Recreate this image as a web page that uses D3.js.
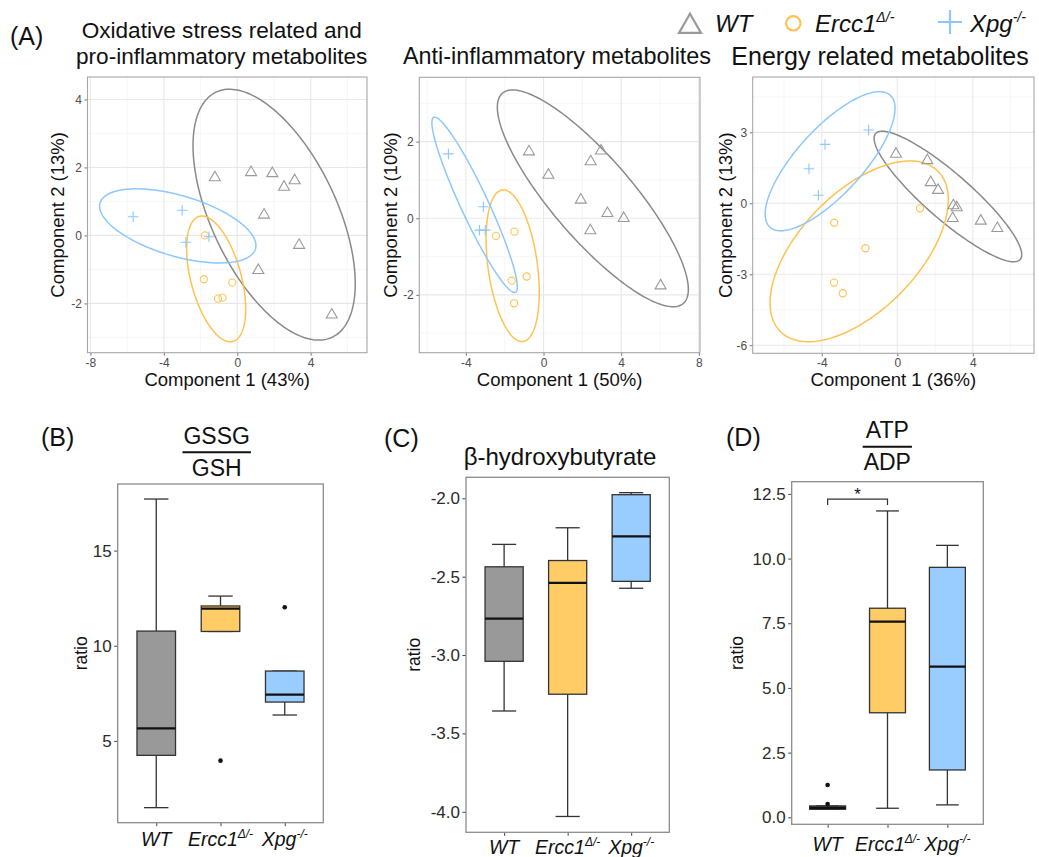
<!DOCTYPE html>
<html><head><meta charset="utf-8">
<script src="https://cdn.jsdelivr.net/npm/d3@7"></script>
<style>body{margin:0;background:#fff} svg text{font-family:"Liberation Sans",Arial,sans-serif}</style>
</head><body><svg id="c" width="1039" height="857"></svg>
<script>
// ---------------- DATA ----------------
const groups = ["WT", "Ercc1", "Xpg"];
const groupSup = ["", "\u0394/-", "-/-"];

const pcaTitles = [["Oxidative stress related and", "pro-inflammatory metabolites"], ["Anti-inflammatory metabolites"], ["Energy related metabolites"]];
const pcaXTitles = ["Component 1 (43%)", "Component 1 (50%)", "Component 1 (36%)"];
const pcaYTitles = ["Component 2 (13%)", "Component 2 (10%)", "Component 2 (13%)"];
const pcaXTicks = [[-8, -4, 0, 4], [-4, 0, 4, 8], [-4, 0, 4]];
const pcaYTicks = [[-2, 0, 2, 4], [-2, 0, 2], [-6, -3, 0, 3]];
const pcaXMinor = [[-6, -2, 2, 6], [-6, -2, 2, 6], [-6, -2, 2, 6]];
const pcaYMinor = [[-3, -1, 1, 3], [-3, -1, 1, 3], [-4.5, -1.5, 1.5, 4.5]];

// PCA scores [component1, component2]
const oxWT = [[-1.22, 1.75], [0.75, 1.9], [1.91, 1.87], [3.13, 1.66], [2.55, 1.47], [1.46, 0.65], [3.37, -0.24], [1.15, -0.98], [5.15, -2.29]];
const oxErcc1 = [[-1.76, 0.0], [-1.82, -1.29], [-0.27, -1.39], [-1.05, -1.86], [-0.8, -1.83]];
const oxXpg = [[-5.67, 0.55], [-3.0, 0.74], [-2.8, -0.2], [-1.54, -0.04]];
const antiWT = [[-0.75, 1.78], [2.96, 1.8], [2.43, 1.52], [0.25, 1.17], [1.92, 0.52], [3.29, 0.17], [4.13, 0.04], [2.41, -0.28], [6.03, -1.72]];
const antiErcc1 = [[-2.45, -0.46], [-1.5, -0.35], [-1.64, -1.63], [-0.87, -1.52], [-1.52, -2.22]];
const antiXpg = [[-4.9, 1.68], [-3.1, 0.3], [-3.3, -0.31], [-3.0, -0.31]];
const enWT = [[-0.07, 2.15], [1.59, 1.88], [1.77, 0.95], [2.16, 0.62], [2.97, -0.03], [3.15, -0.11], [2.93, -0.57], [4.42, -0.68], [5.3, -0.99]];
const enErcc1 = [[1.2, -0.21], [-3.34, -0.82], [-1.69, -1.9], [-3.35, -3.35], [-2.89, -3.8]];
const enXpg = [[-1.52, 3.1], [-3.83, 2.49], [-4.68, 1.46], [-4.18, 0.34]];

// confidence ellipses: [centre x, centre y, half-range x, half-range y, correlation]
const oxEllipses = [[2.01, 0.61, 4.42, 3.69, -0.55], [-1.15, -1.28, 1.61, 1.85, -0.48], [-3.24, 0.28, 4.26, 1.09, -0.53]];
const antiEllipses = [[2.54, 0.52, 4.92, 2.83, -0.84], [-1.59, -1.24, 1.37, 1.98, -0.35], [-3.55, 0.35, 2.2, 2.29, -0.935]];
const enEllipses = [[2.68, 0.29, 3.91, 2.76, -0.89], [-2.02, -2.03, 4.72, 3.82, 0.57], [-3.56, 1.78, 3.44, 2.94, 0.76]];

// Box plot summaries: [lower whisker, Q1, median, Q3, upper whisker]
const gssgStats = [[1.49, 4.24, 5.66, 10.77, 17.71], [10.75, 10.75, 11.95, 12.09, 12.61], [6.36, 7.04, 7.43, 8.67, 8.67]];
const gssgOutliers = [[], [3.96], [12.02]];
const bhbStats = [[-3.357, -3.04, -2.768, -2.437, -2.294], [-4.03, -3.25, -2.54, -2.397, -2.188], [-2.574, -2.53, -2.243, -1.977, -1.964]];
const bhbOutliers = [[], [], []];
const atpStats = [[0.31, 0.31, 0.37, 0.44, 0.44], [0.35, 4.04, 7.56, 8.08, 11.84], [0.48, 1.83, 5.82, 9.66, 10.51]];
const atpOutliers = [[1.25, 0.51], [], []];
const gssgTicks = [5, 10, 15];
const bhbTicks = [-4.0, -3.5, -3.0, -2.5, -2.0];
const atpTicks = [0, 2.5, 5, 7.5, 10, 12.5];
const atpSigPair = [1, 2];
const atpSigLevels = [12.3, 12.07];
const atpSigLabel = "*";

// ---------------- DRAWING ----------------
const svg = d3.select("#c");
const strokeCol = ["#9a9a9a", "#FFC24F", "#8CC8FF"];
const fillCol = ["#999999", "#FFCC66", "#99CCFF"];

function marker(sel, gi, size) {
  const s = size;
  if (gi === 0) {
    const h = s * 0.866;
    sel.append("path").attr("d", `M0,${-h / 2}L${s / 2},${h / 2}L${-s / 2},${h / 2}Z`)
      .attr("fill", "none").attr("stroke", strokeCol[0]);
  } else if (gi === 1) {
    sel.append("circle").attr("r", s * 0.36).attr("fill", "none").attr("stroke", strokeCol[1]);
  } else {
    sel.append("path").attr("d", `M${-s / 2},0H${s / 2}M0,${-s / 2}V${s / 2}`)
      .attr("fill", "none").attr("stroke", strokeCol[2]);
  }
}

const pcaLayout = [
  {l: 87.5, r: 367, t: 77, b: 352.7, xd: [-8.16, 7.07], yd: [-3.45, 4.66], tx: 221.7, ty: [38, 63.5], fs: 22.6, yx: 64},
  {l: 419.3, r: 700, t: 77.3, b: 352.7, xd: [-6.4, 8.06], yd: [-3.51, 3.68], tx: 557, ty: [64], fs: 23.4, yx: 397},
  {l: 752.7, r: 1034, t: 77, b: 353.3, xd: [-7.66, 7.24], yd: [-6.34, 5.34], tx: 880, ty: [64.5], fs: 25, yx: 731.5}
];
const pcaPoints = [[oxWT, oxErcc1, oxXpg], [antiWT, antiErcc1, antiXpg], [enWT, enErcc1, enXpg]];
const pcaEll = [oxEllipses, antiEllipses, enEllipses];

function pcaPanel(idx) {
  const L = pcaLayout[idx];
  const x = d3.scaleLinear().domain(L.xd).range([L.l, L.r]);
  const y = d3.scaleLinear().domain(L.yd).range([L.b, L.t]);
  const g = svg.append("g");
  const inX = v => v > L.xd[0] && v < L.xd[1];
  const inY = v => v > L.yd[0] && v < L.yd[1];
  g.selectAll(".mnx").data(pcaXMinor[idx].filter(inX)).join("line")
    .attr("x1", d => x(d)).attr("x2", d => x(d)).attr("y1", L.t).attr("y2", L.b)
    .attr("stroke", "#f2f2f2").attr("stroke-width", 0.7);
  g.selectAll(".mny").data(pcaYMinor[idx].filter(inY)).join("line")
    .attr("y1", d => y(d)).attr("y2", d => y(d)).attr("x1", L.l).attr("x2", L.r)
    .attr("stroke", "#f2f2f2").attr("stroke-width", 0.7);
  g.selectAll(".mjx").data(pcaXTicks[idx]).join("line")
    .attr("x1", d => x(d)).attr("x2", d => x(d)).attr("y1", L.t).attr("y2", L.b)
    .attr("stroke", "#e8e8e8").attr("stroke-width", 1.1);
  g.selectAll(".mjy").data(pcaYTicks[idx]).join("line")
    .attr("y1", d => y(d)).attr("y2", d => y(d)).attr("x1", L.l).attr("x2", L.r)
    .attr("stroke", "#e8e8e8").attr("stroke-width", 1.1);

  const xa = g.append("g").attr("transform", `translate(0,${L.b})`)
    .call(d3.axisBottom(x).tickValues(pcaXTicks[idx]).tickSize(3).tickPadding(2.5).tickFormat(d => String(d)));
  const ya = g.append("g").attr("transform", `translate(${L.l},0)`)
    .call(d3.axisLeft(y).tickValues(pcaYTicks[idx]).tickSize(3).tickPadding(2.5).tickFormat(d => String(d)));
  [xa, ya].forEach(a => {
    a.select(".domain").remove();
    a.selectAll("line").attr("stroke", "#777");
    a.selectAll("text").attr("fill", "#4d4d4d").style("font-size", "12px")
      .style("font-family", '"Liberation Sans",Arial,sans-serif');
  });

  // ellipses
  const ts = d3.range(0, 201).map(i => i / 200 * 2 * Math.PI);
  pcaEll[idx].forEach((e, gi) => {
    const [cx, cy, rx, ry, rho] = e;
    const s = Math.sqrt(1 - rho * rho);
    const line = d3.line().x(t => x(cx + rx * Math.cos(t))).y(t => y(cy + ry * (rho * Math.cos(t) + s * Math.sin(t))));
    g.append("path").attr("d", line(ts) + "Z").attr("fill", "none")
      .attr("stroke", gi === 0 ? "#8a8a8a" : strokeCol[gi]).attr("stroke-width", 1.5);
  });
  // points
  pcaPoints[idx].forEach((pts, gi) => {
    pts.forEach(p => {
      const m = g.append("g").attr("transform", `translate(${x(p[0])},${y(p[1])})`).attr("stroke-width", 1.1);
      marker(m, gi, gi === 0 ? 11 : (gi === 1 ? 10 : 10.5));
    });
  });
  g.append("rect").attr("x", L.l).attr("y", L.t).attr("width", L.r - L.l).attr("height", L.b - L.t)
    .attr("fill", "none").attr("stroke", "#a6a6a6").attr("stroke-width", 1.1);

  // titles
  pcaTitles[idx].forEach((t, k) => {
    svg.append("text").attr("x", L.tx).attr("y", L.ty[k]).attr("text-anchor", "middle")
      .style("font-size", L.fs + "px").attr("fill", "#111").text(t);
  });
  svg.append("text").attr("x", (L.l + L.r) / 2).attr("y", L.b + 33).attr("text-anchor", "middle")
    .style("font-size", "18.5px").attr("fill", "#111").text(pcaXTitles[idx]);
  svg.append("text").attr("transform", `translate(${L.yx},${(L.t + L.b) / 2}) rotate(-90)`)
    .attr("text-anchor", "middle").style("font-size", "18.5px").attr("fill", "#111").text(pcaYTitles[idx]);
}
[0, 1, 2].forEach(pcaPanel);

// legend
const legendItems = [{cx: 690, cy: 23.3, tx: 715}, {cx: 793.3, cy: 23.3, tx: 815}, {cx: 950, cy: 22, tx: 970}];
groups.forEach((gname, gi) => {
  const it = legendItems[gi];
  const m = svg.append("g").attr("transform", `translate(${it.cx},${it.cy})`).attr("stroke-width", 2.2);
  marker(m, gi, gi === 0 ? 22 : (gi === 1 ? 20 : 24));
  const t = svg.append("text").attr("x", it.tx).attr("y", 32).style("font-size", "24px")
    .style("font-style", "italic").attr("fill", "#111");
  t.append("tspan").text(gname);
  if (groupSup[gi]) t.append("tspan").attr("dy", -10).style("font-size", "14px").text(groupSup[gi]);
});

// panel labels
[["(A)", 10, 45], ["(B)", 41, 446], ["(C)", 384, 447], ["(D)", 726, 446]].forEach(d => {
  svg.append("text").attr("x", d[1]).attr("y", d[2]).style("font-size", "25px").attr("fill", "#111").text(d[0]);
});

// ---------------- BOX PLOTS ----------------
const boxLayout = [
  {l: 117.7, r: 323.3, t: 484, b: 822.7, yd: [0.7, 18.5], lblY: 846, ratioX: 86.5},
  {l: 466, r: 669.3, t: 477.3, b: 832.3, yd: [-4.131, -1.866], lblY: 854, ratioX: 420},
  {l: 791.7, r: 983.3, t: 481.7, b: 824.3, yd: [-0.27, 12.97], lblY: 851, ratioX: 743}
];

function boxPanel(L, stats, outs, ticks, fmt) {
  const x = d3.scaleLinear().domain([0.4, 3.6]).range([L.l, L.r]);
  const y = d3.scaleLinear().domain(L.yd).range([L.b, L.t]);
  const g = svg.append("g");
  const ya = g.append("g").attr("transform", `translate(${L.l},0)`)
    .call(d3.axisLeft(y).tickValues(ticks).tickSize(3.5).tickPadding(2.5).tickFormat(fmt));
  const xa = g.append("g").attr("transform", `translate(0,${L.b})`)
    .call(d3.axisBottom(x).tickValues([1, 2, 3]).tickSize(3.5).tickFormat(""));
  [xa, ya].forEach(a => {
    a.select(".domain").remove();
    a.selectAll("line").attr("stroke", "#444");
  });
  ya.selectAll("text").attr("fill", "#2b2b2b").style("font-size", "17px")
    .style("font-family", '"Liberation Sans",Arial,sans-serif');

  stats.forEach((s, i) => {
    const c = x(i + 1), hw = x(i + 1.3) - c, cw = x(i + 1.19) - c;
    const gg = g.append("g").attr("stroke", "#333").attr("stroke-width", 1.3);
    gg.append("line").attr("x1", c).attr("x2", c).attr("y1", y(s[0])).attr("y2", y(s[1]));
    gg.append("line").attr("x1", c).attr("x2", c).attr("y1", y(s[3])).attr("y2", y(s[4]));
    gg.append("line").attr("x1", c - cw).attr("x2", c + cw).attr("y1", y(s[0])).attr("y2", y(s[0]));
    gg.append("line").attr("x1", c - cw).attr("x2", c + cw).attr("y1", y(s[4])).attr("y2", y(s[4]));
    gg.append("rect").attr("x", c - hw).attr("width", 2 * hw).attr("y", y(s[3]))
      .attr("height", Math.max(0.5, y(s[1]) - y(s[3]))).attr("fill", fillCol[i]);
    gg.append("line").attr("x1", c - hw).attr("x2", c + hw).attr("y1", y(s[2])).attr("y2", y(s[2]))
      .attr("stroke", "#111").attr("stroke-width", 2.3);
    outs[i].forEach(o => {
      g.append("circle").attr("cx", c).attr("cy", y(o)).attr("r", 2.3).attr("fill", "#111");
    });
    const t = svg.append("text").attr("x", c).attr("y", L.lblY).attr("text-anchor", "middle")
      .style("font-size", "19.5px").style("font-style", "italic").attr("fill", "#111");
    t.append("tspan").text(groups[i]);
    if (groupSup[i]) t.append("tspan").attr("dy", -8).style("font-size", "12px").text(groupSup[i]);
  });
  g.append("rect").attr("x", L.l).attr("y", L.t).attr("width", L.r - L.l).attr("height", L.b - L.t)
    .attr("fill", "none").attr("stroke", "#8c8c8c").attr("stroke-width", 1.3);
  svg.append("text").attr("transform", `translate(${L.ratioX},${(L.t + L.b) / 2}) rotate(-90)`)
    .attr("text-anchor", "middle").style("font-size", "17.5px").attr("fill", "#111").text("ratio");
  return {x, y, g};
}

function fracTitle(cx, yTop, yBot, lineY, top, bot) {
  const t1 = svg.append("text").attr("x", cx).attr("y", yTop).attr("text-anchor", "middle").style("font-size", "23px").attr("fill", "#111").text(top);
  const t2 = svg.append("text").attr("x", cx).attr("y", yBot).attr("text-anchor", "middle").style("font-size", "23px").attr("fill", "#111").text(bot);
  const w = Math.max(t1.node().getComputedTextLength(), t2.node().getComputedTextLength()) + 2;
  svg.append("line").attr("x1", cx - w / 2).attr("x2", cx + w / 2).attr("y1", lineY).attr("y2", lineY)
    .attr("stroke", "#111").attr("stroke-width", 2);
}

boxPanel(boxLayout[0], gssgStats, gssgOutliers, gssgTicks, d => String(d));
fracTitle(216.7, 443.5, 476, 452.3, "GSSG", "GSH");

boxPanel(boxLayout[1], bhbStats, bhbOutliers, bhbTicks, d => d.toFixed(1));
svg.append("text").attr("x", 560).attr("y", 465).attr("text-anchor", "middle").style("font-size", "24px")
  .attr("fill", "#111").text("\u03B2-hydroxybutyrate");

const D = boxPanel(boxLayout[2], atpStats, atpOutliers, atpTicks, d => d.toFixed(1));
fracTitle(887.3, 437.5, 470, 446.7, "ATP", "ADP");
const sx1 = D.x(atpSigPair[0]), sx2 = D.x(atpSigPair[1]);
D.g.append("path").attr("d", `M${sx1},${D.y(atpSigLevels[1])}V${D.y(atpSigLevels[0])}H${sx2}V${D.y(atpSigLevels[1])}`)
  .attr("fill", "none").attr("stroke", "#333").attr("stroke-width", 1.2);
D.g.append("text").attr("x", (sx1 + sx2) / 2).attr("y", D.y(atpSigLevels[0]) + 1).attr("text-anchor", "middle")
  .style("font-size", "17px").attr("fill", "#111").text(atpSigLabel);
</script></body></html>
